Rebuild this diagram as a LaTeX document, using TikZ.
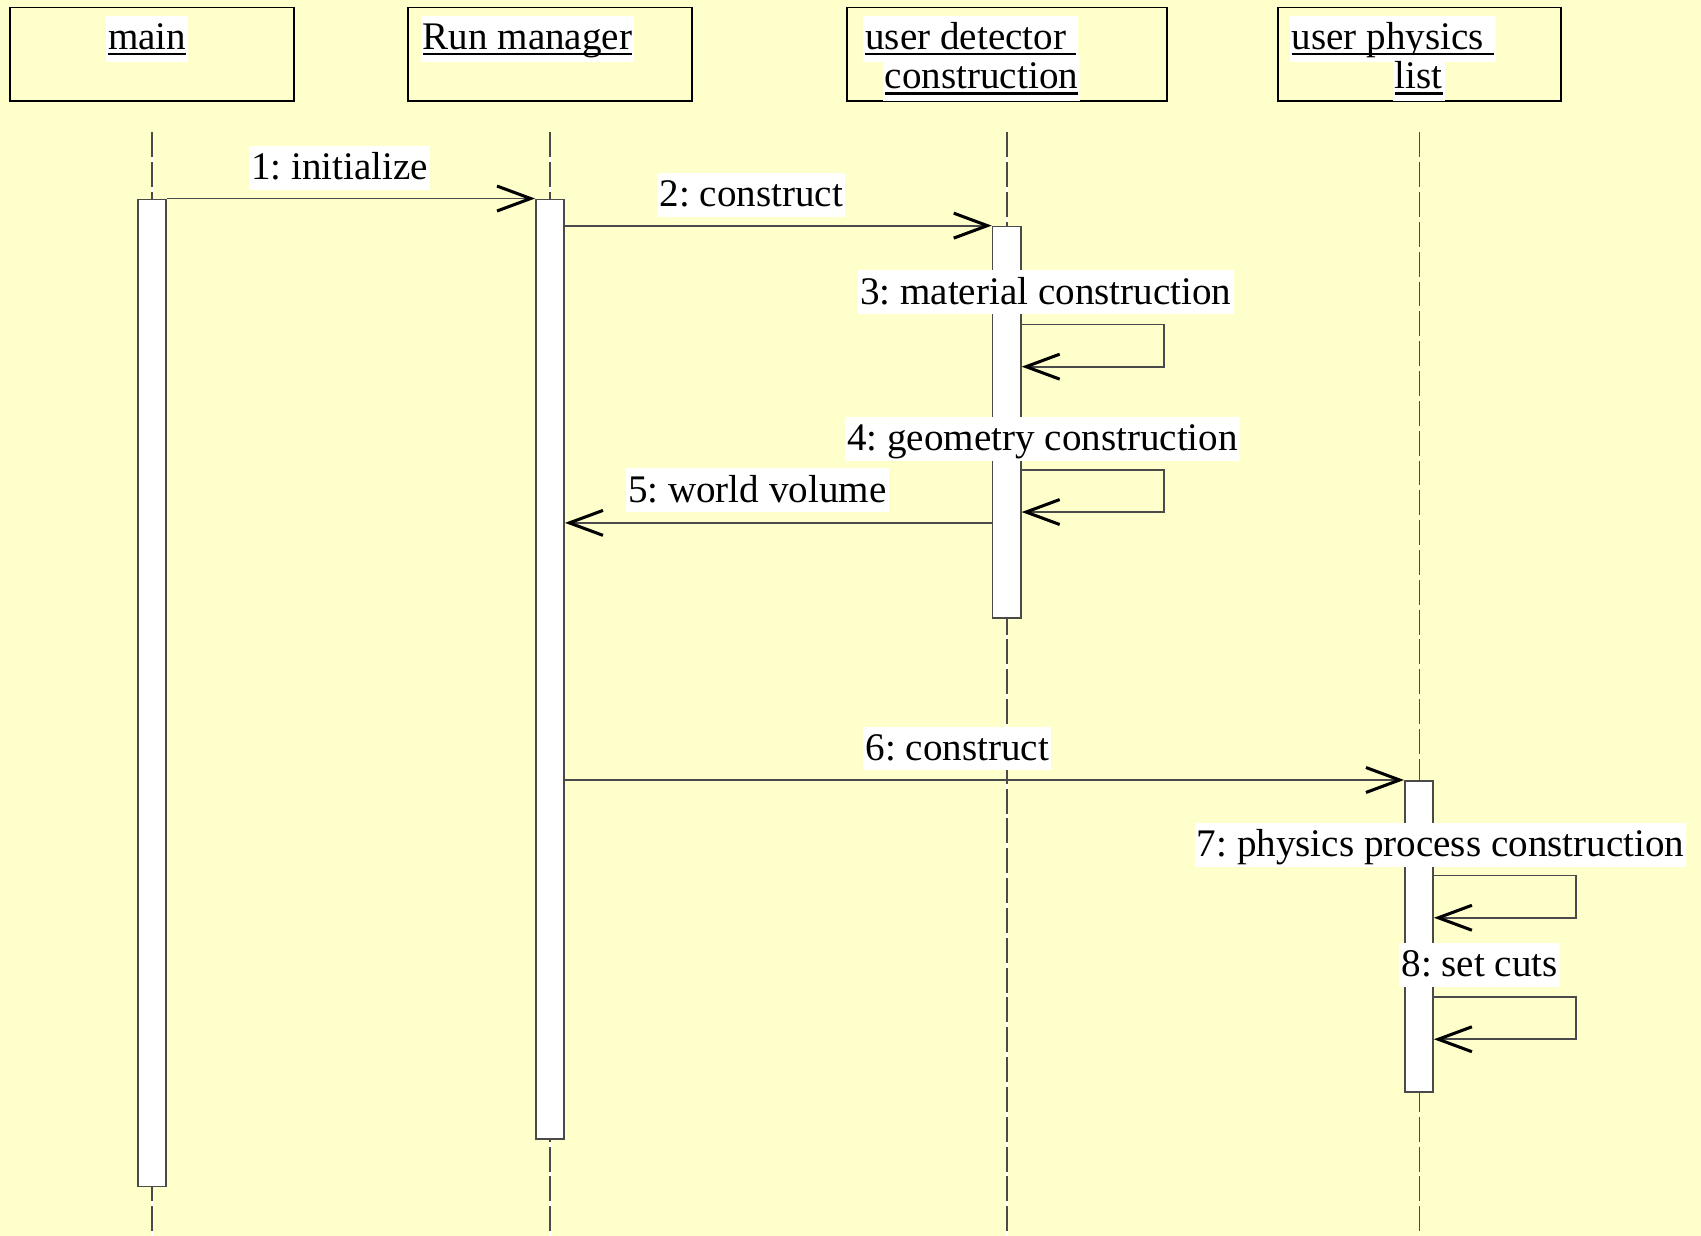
\documentclass[tikz,border=0pt]{standalone}
\usepackage{fontspec}
\setmainfont{Liberation Serif}
\usetikzlibrary{arrows.meta}
\definecolor{notepaper}{HTML}{FFFFCC}
\definecolor{linegray}{HTML}{4A4A4A}
\frenchspacing
\newcommand\objname[1]{\setbox0\hbox{#1}\rlap{\rule[-1.6pt]{\wd0}{0.7pt}}\box0}

\begin{document}
\begin{tikzpicture}[x=0.1mm, y=-0.1mm, font=\fontsize{10.25}{12}\selectfont,
  header/.style={draw=black, line width=0.45pt, minimum height=8.6mm, inner sep=0pt},
  title/.style={fill=white, anchor=west, inner sep=0.2mm, text height=2.9mm, text depth=1.0mm},
  lbl/.style={fill=white, inner sep=0.2mm, text height=2.9mm, text depth=0.75mm},
  bar/.style={draw=linegray, fill=white, line width=0.45pt, minimum width=2.6mm, anchor=north, inner sep=0pt},
  msg/.style={draw=linegray, line width=0.45pt, -{Straight Barb[length=3.1mm, width=2.3mm, line width=0.8pt, color=black]}},
  lifeline/.style={draw=linegray, line width=0.5pt, dash pattern=on 2.3mm off 0.45mm}]
%paper
\fill[notepaper] (0,0) rectangle (1568,1139);
\useasboundingbox (0,0) rectangle (1568,1139);
%objects
\node[header, minimum width=26.2mm] (main) at (140,50) {};
\node[header, minimum width=26.2mm] (run) at (507,50) {};
\node[header, minimum width=29.5mm] (det) at (928.5,50) {};
\node[header, minimum width=26.1mm] (phys) at (1308.5,50) {};
\node[title] (mainname) at (97,36) {\objname{main}};
\node[title] (runname) at (387,36) {\objname{Run manager}};
\node[title] (detname) at (795,36) {\objname{user detector\ }};
\node[title] (detname2) at (813,72) {\objname{construction}};
\node[title] (physname) at (1188,36) {\objname{user physics\ }};
\node[title] (physname2) at (1283,72) {\objname{list}};
%lifelines
\foreach \n in {main,run,det,phys}{
	\draw[white, line width=0.5pt] (\n.south |- 0,122) -- (\n.south |- 0,1139);
	\draw[lifeline] (\n.south |- 0,122) -- (\n.south |- 0,1139);
}
%activations
\node[bar, minimum height=91mm] (mainbar) at (140,183) {};
\node[bar, minimum height=86.6mm] (runbar) at (507,183) {};
\node[bar, minimum height=36.1mm] (detbar) at (928,208) {};
\node[bar, minimum height=28.7mm] (physbar) at (1308,719) {};
%messages
\draw[msg] (mainbar.east |- 0,183) -- (runbar.west |- 0,183);
\draw[msg] (runbar.east |- 0,208) -- (detbar.west |- 0,208);
\draw[msg] (detbar.west |- 0,482) -- (runbar.east |- 0,482);
\draw[msg] (runbar.east |- 0,719) -- (physbar.west |- 0,719);
\foreach \b/\ya/\yb/\r in {detbar/299/338/1073, detbar/433/472/1073, physbar/807/846/1453, physbar/919/958/1453}{
	\draw[msg] (\b.east |- 0,\ya) -| (\r,\yb) -- (\b.east |- 0,\yb);
}
%labels
\node[lbl] (l1) at (313,154.5) {1: initialize};
\node[lbl] (l2) at (692.5,180) {2: construct};
\node[lbl] (l3) at (964,269.5) {3: material construction};
\node[lbl] (l4) at (961,404.5) {4: geometry construction};
\node[lbl] (l5) at (698,452) {5: world volume};
\node[lbl] (l6) at (882.5,690) {6: construct};
\node[lbl] (l7) at (1328,778.5) {7: physics process construction};
\node[lbl] (l8) at (1364,889.5) {8: set cuts};
\end{tikzpicture}
\end{document}
